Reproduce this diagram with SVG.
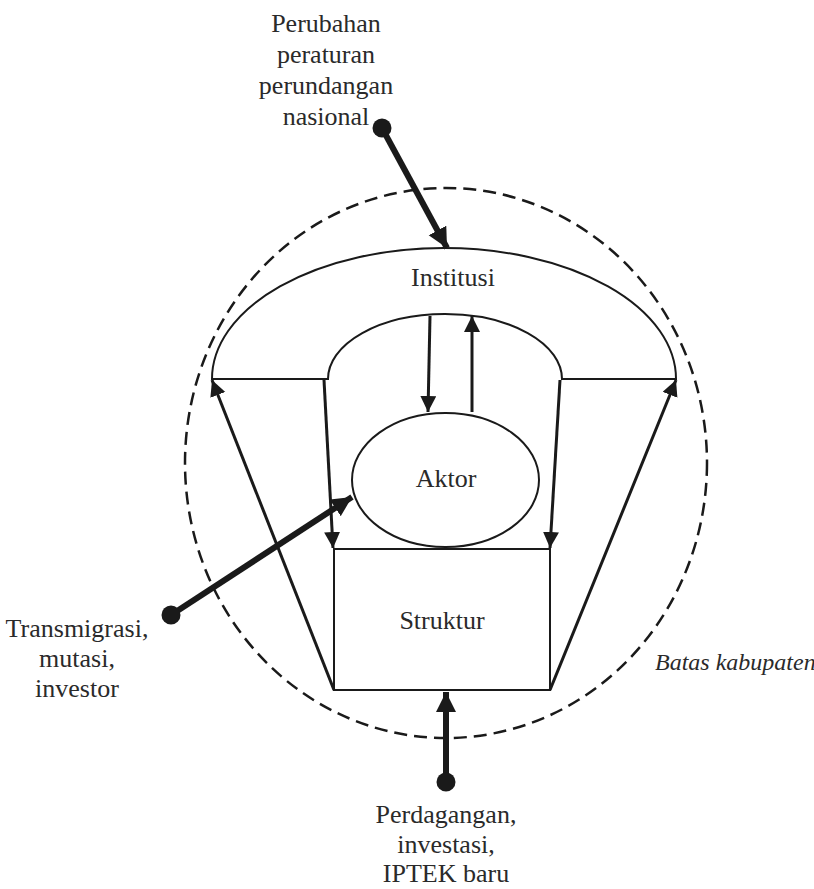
<svg xmlns="http://www.w3.org/2000/svg" width="814" height="889" viewBox="0 0 814 889">
<style>
.t{font-family:"Liberation Serif","Times New Roman",serif;font-size:26px;fill:#2a2a2a;text-anchor:middle}
.it{font-style:italic;text-anchor:start;font-size:24px}
.sh{fill:none;stroke:#1a1a1a;stroke-width:2}
.ar{fill:none;stroke:#1a1a1a;stroke-width:3}
.thick{fill:none;stroke:#1a1a1a;stroke-width:6}
.dash{fill:none;stroke:#1a1a1a;stroke-width:2.5;stroke-dasharray:13 7}
.dot{fill:#1a1a1a}
</style>
<defs>
<marker id="ah" markerUnits="userSpaceOnUse" markerWidth="18" markerHeight="18" refX="16" refY="8" orient="auto">
<path d="M0,0 L16,8 L0,16 z" fill="#1a1a1a"/>
</marker>
<marker id="ahb" markerUnits="userSpaceOnUse" markerWidth="24" markerHeight="22" refX="20" refY="10" orient="auto">
<path d="M0,0 L20,10 L0,20 z" fill="#1a1a1a"/>
</marker>
</defs>

<g id="batas">
<ellipse class="dash" cx="446" cy="463" rx="261" ry="275"/>
<text class="t it" x="655" y="670">Batas kabupaten</text>
</g>

<g id="institusi">
<path class="sh" d="M212,379 A232,131 0 0 1 676,379 L562,379 A117,65 0 0 0 328,379 Z"/>
<text class="t" x="453" y="286">Institusi</text>
</g>

<g id="aktor">
<ellipse class="sh" cx="445.5" cy="480" rx="93.5" ry="67"/>
<text class="t" x="446" y="487">Aktor</text>
</g>

<g id="struktur">
<rect class="sh" x="334" y="549" width="216" height="141"/>
<text class="t" x="442" y="629">Struktur</text>
</g>

<g id="connectors">
<line class="ar" x1="430" y1="316" x2="428" y2="412" marker-end="url(#ah)"/>
<line class="ar" x1="472" y1="412" x2="472" y2="316" marker-end="url(#ah)"/>
<line class="ar" x1="324" y1="380" x2="333" y2="548" marker-end="url(#ah)"/>
<line class="ar" x1="560" y1="380" x2="550" y2="548" marker-end="url(#ah)"/>
<line class="ar" x1="334" y1="690" x2="212" y2="380" marker-end="url(#ah)"/>
<line class="ar" x1="550" y1="690" x2="676" y2="380" marker-end="url(#ah)"/>
<line class="thick" x1="382" y1="128" x2="447" y2="248" marker-end="url(#ahb)"/>
<circle class="dot" cx="382" cy="128" r="9.5"/>
<line class="thick" x1="171" y1="615" x2="352" y2="497" marker-end="url(#ahb)"/>
<circle class="dot" cx="171" cy="615" r="9.5"/>
<line class="thick" x1="446" y1="782" x2="446" y2="692" marker-end="url(#ahb)"/>
<circle class="dot" cx="446" cy="782" r="9.5"/>
</g>

<g id="label-top">
<text class="t" x="326" y="32">Perubahan</text>
<text class="t" x="326" y="63">peraturan</text>
<text class="t" x="326" y="94">perundangan</text>
<text class="t" x="326" y="125">nasional</text>
</g>
<g id="label-left">
<text class="t" x="77" y="637">Transmigrasi,</text>
<text class="t" x="77" y="667">mutasi,</text>
<text class="t" x="77" y="697">investor</text>
</g>
<g id="label-bottom">
<text class="t" x="446" y="823">Perdagangan,</text>
<text class="t" x="446" y="853">investasi,</text>
<text class="t" x="446" y="882">IPTEK baru</text>
</g>
</svg>
